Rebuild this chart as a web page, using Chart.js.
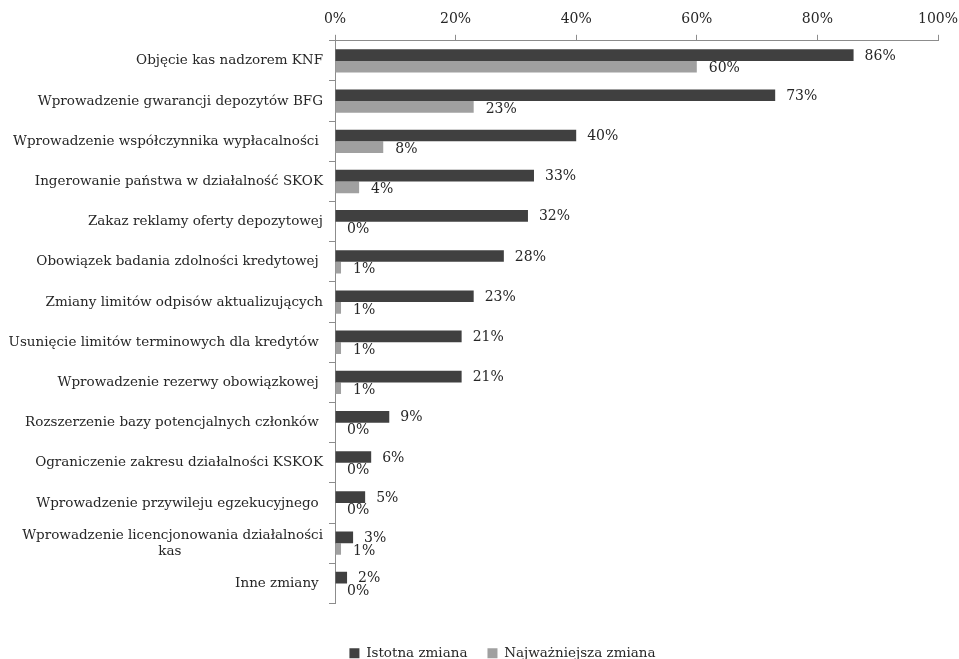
<!DOCTYPE html>
<html>
<head>
<meta charset="utf-8">
<script src="https://cdn.jsdelivr.net/npm/chart.js@4"></script>
<style>
  html, body { margin: 0; padding: 0; background: #fff; }
  #wrap { width: 959px; height: 659px; }
</style>
</head>
<body>
<div id="wrap"><canvas id="chart"></canvas></div>
<script>
// kategorie zmian
var categories = [
    'Objęcie kas nadzorem KNF',
    'Wprowadzenie gwarancji depozytów BFG',
    'Wprowadzenie współczynnika wypłacalności ',
    'Ingerowanie państwa w działalność SKOK',
    'Zakaz reklamy oferty depozytowej',
    'Obowiązek badania zdolności kredytowej ',
    'Zmiany limitów odpisów aktualizujących',
    'Usunięcie limitów terminowych dla kredytów ',
    'Wprowadzenie rezerwy obowiązkowej ',
    'Rozszerzenie bazy potencjalnych członków ',
    'Ograniczenie zakresu działalności KSKOK',
    'Wprowadzenie przywileju egzekucyjnego ',
    ['Wprowadzenie licencjonowania działalności', 'kas                                 '],
    'Inne zmiany '
];
var istotna = [86, 73, 40, 33, 32, 28, 23, 21, 21, 9, 6, 5, 3, 2];
var najwazniejsza = [60, 23, 8, 4, 0, 1, 1, 1, 1, 0, 0, 0, 1, 0];
var xTicks = [0, 20, 40, 60, 80, 100];

var FONT = 'DejaVu Serif';
var SIZE = 13.5;

// etykiety danych przy końcu słupków
var etykiety = {
    id: 'etykiety',
    afterDatasetsDraw: function(chart) {
        var ctx = chart.ctx;
        ctx.save();
        ctx.font = '14px "' + FONT + '"';
        ctx.fillStyle = '#262626';
        ctx.textAlign = 'left';
        ctx.textBaseline = 'middle';
        chart.data.datasets.forEach(function(ds, i) {
            var meta = chart.getDatasetMeta(i);
            meta.data.forEach(function(el, j) {
                var dx = i === 0 ? 11 : 12;
                var dy = i === 0 ? 1 : 2;
                ctx.fillText(ds.data[j] + '%', el.x + dx, el.y + dy);
            });
        });
        ctx.restore();
    }
};

// legenda: wiecej miejsca nad nia, przesunieta w dol i w prawo
var legendaNizej = {
    id: 'legendaNizej',
    beforeInit: function(chart) {
        var fit = chart.legend.fit;
        chart.legend.fit = function() {
            fit.call(this);
            this.height += 12;
        };
    },
    afterLayout: function(chart) {
        var lg = chart.legend;
        lg.top += 23;
        lg.bottom += 23;
        lg.left += 20;
        lg.right += 20;
    }
};

var ctx = document.getElementById('chart').getContext('2d');
var myChart = new Chart(ctx, {
    type: 'bar',
    data: {
        labels: categories,
        datasets: [{
            label: 'Istotna zmiana',
            data: istotna,
            backgroundColor: '#404040',
            borderWidth: 0,
            barPercentage: 1,
            categoryPercentage: 0.58
        }, {
            label: 'Najważniejsza zmiana',
            data: najwazniejsza,
            backgroundColor: '#a0a0a0',
            borderWidth: 0,
            barPercentage: 1,
            categoryPercentage: 0.58
        }]
    },
    options: {
        indexAxis: 'y',
        responsive: true,
        maintainAspectRatio: false,
        animation: false,
        layout: {
            padding: { top: 4, right: 0, bottom: 0, left: 6 }
        },
        scales: {
            x: {
                position: 'top',
                min: 0,
                max: 100,
                afterBuildTicks: function(axis) {
                    axis.ticks = xTicks.map(function(v) { return { value: v }; });
                },
                afterFit: function(scale) {
                    scale.paddingRight = 21;
                },
                grid: {
                    drawOnChartArea: false,
                    drawTicks: true,
                    tickLength: 6,
                    color: '#8c8c8c'
                },
                border: { color: '#8c8c8c' },
                ticks: {
                    padding: 7,
                    color: '#262626',
                    font: { family: FONT, size: 14 },
                    callback: function(v) { return v + '%'; }
                }
            },
            y: {
                afterFit: function(scale) {
                    scale.width = 329;
                },
                grid: {
                    offset: true,
                    drawOnChartArea: false,
                    drawTicks: true,
                    tickLength: 6,
                    color: '#8c8c8c'
                },
                border: { color: '#8c8c8c' },
                ticks: {
                    padding: 6,
                    color: '#262626',
                    font: { family: FONT, size: SIZE },
                    autoSkip: false
                }
            }
        },
        plugins: {
            legend: {
                position: 'bottom',
                labels: {
                    boxWidth: 10,
                    boxHeight: 10,
                    padding: 20,
                    color: '#262626',
                    font: { family: FONT, size: SIZE }
                }
            },
            tooltip: { enabled: false }
        }
    },
    plugins: [etykiety, legendaNizej]
});
</script>
</body>
</html>
